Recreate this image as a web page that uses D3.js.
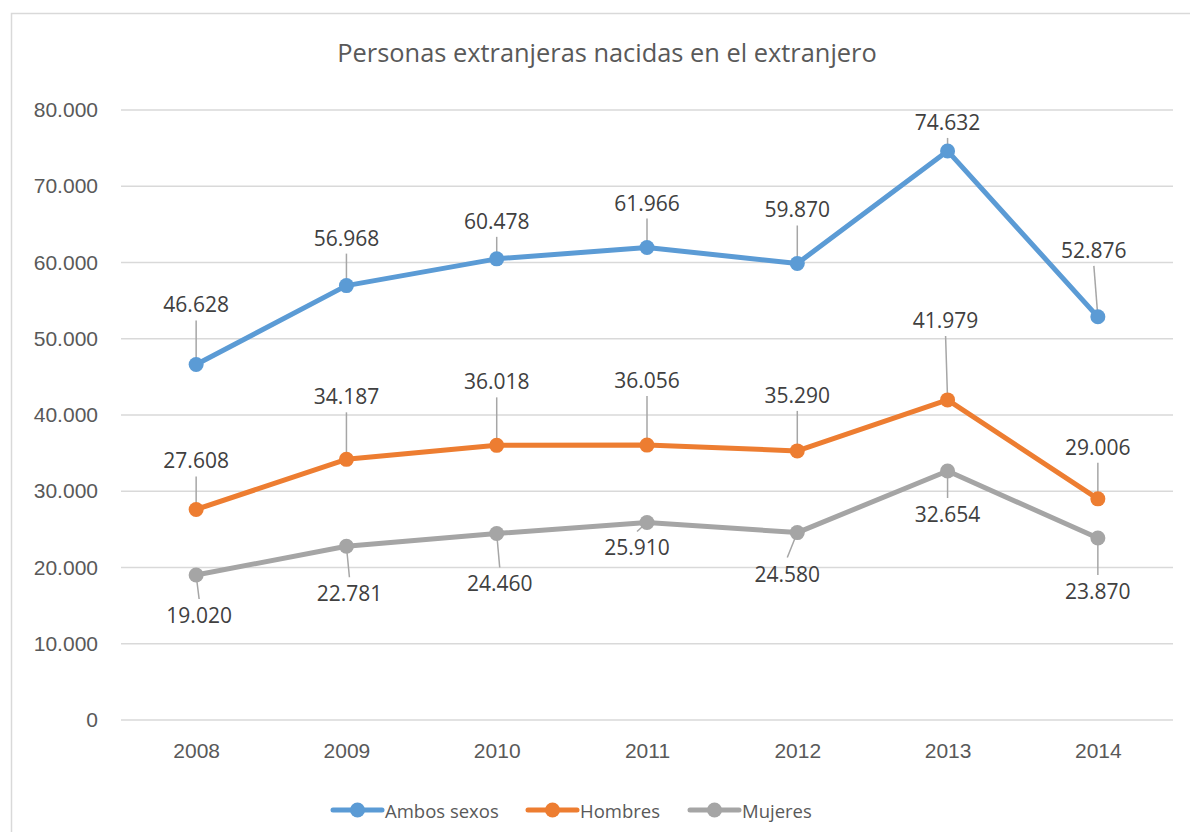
<!DOCTYPE html>
<html>
<head>
<meta charset="utf-8">
<script src="https://cdn.jsdelivr.net/npm/d3@7/dist/d3.min.js"></script>
<style>
  html, body { margin: 0; padding: 0; background: #ffffff; }
  svg { display: block; font-family: "Open Sans", "Noto Sans", sans-serif; }
</style>
</head>
<body>
<svg id="chart" width="1190" height="832"></svg>
<script>
// Chart data
const years = ["2008", "2009", "2010", "2011", "2012", "2013", "2014"];
const ambosSexos = [46628, 56968, 60478, 61966, 59870, 74632, 52876];
const hombres = [27608, 34187, 36018, 36056, 35290, 41979, 29006];
const mujeres = [19020, 22781, 24460, 25910, 24580, 32654, 23870];
const seriesNames = ["Ambos sexos", "Hombres", "Mujeres"];
const yTicks = [0, 10000, 20000, 30000, 40000, 50000, 60000, 70000, 80000];
const title = "Personas extranjeras nacidas en el extranjero";

// Data-label placement (pixel offset of each label centre from its point)
const labelOffsets = [
  [[0, -60], [0, -48], [0, -38], [0, -45], [0, -54], [0, -29], [-4, -67]],
  [[0, -49], [0, -63], [0, -64], [0, -65], [0, -56], [-2, -80], [0, -52]],
  [[3, 40], [3, 47], [3, 50], [-10, 25], [-10, 41], [0, 43], [0, 53]]
];

const colors = ["#5B9BD5", "#ED7D31", "#A5A5A5"];
const textColor = "#595959";
const gridColor = "#D9D9D9";

const es = d3.formatLocale({ decimal: ",", thousands: ".", grouping: [3], currency: ["", "€"] });
const fmt = es.format(",d");

const svg = d3.select("#chart");

// Chart frame
svg.append("rect")
  .attr("x", 11.5).attr("y", 13.5)
  .attr("width", 1200).attr("height", 840)
  .attr("fill", "#ffffff")
  .attr("stroke", gridColor).attr("stroke-width", 1.5);

const plot = { left: 121, right: 1173, top: 110, bottom: 720 };

const x = d3.scalePoint().domain(years).range([plot.left, plot.right]).padding(0.5);
const y = d3.scaleLinear().domain([0, 80000]).range([plot.bottom, plot.top]);

// Title
svg.append("text")
  .attr("x", 607).attr("y", 52)
  .attr("text-anchor", "middle").attr("dominant-baseline", "central")
  .attr("fill", textColor).attr("font-size", 25.4)
  .text(title);

// Horizontal gridlines
svg.append("g").selectAll("line").data(yTicks).join("line")
  .attr("x1", plot.left).attr("x2", plot.right)
  .attr("y1", d => y(d)).attr("y2", d => y(d))
  .attr("stroke", gridColor).attr("stroke-width", 1.5);

// Y axis
const yAxis = svg.append("g")
  .attr("transform", `translate(${plot.left},0)`)
  .call(d3.axisLeft(y).tickValues(yTicks).tickFormat(d => fmt(d)).tickSize(0).tickPadding(23));
yAxis.select(".domain").remove();
yAxis.selectAll("text").attr("fill", textColor).attr("font-size", 21).attr("font-family", null);

// X axis
const xAxis = svg.append("g")
  .attr("transform", `translate(0,${plot.bottom})`)
  .call(d3.axisBottom(x).tickSize(0).tickPadding(23));
xAxis.select(".domain").remove();
xAxis.selectAll("text").attr("fill", textColor).attr("font-size", 21).attr("font-family", null);

const allSeries = [ambosSexos, hombres, mujeres];
const line = d3.line().x((d, i) => x(years[i])).y(d => y(d));

allSeries.forEach((values, s) => {
  const g = svg.append("g");
  const pts = values.map((v, i) => ({
    v, i,
    px: x(years[i]), py: y(v),
    lx: x(years[i]) + labelOffsets[s][i][0],
    ly: y(v) + labelOffsets[s][i][1]
  }));

  // Leader lines from label box edge to point
  const half = 16;
  g.selectAll("line.leader").data(pts.filter(p => Math.abs(p.ly - p.py) > half + 8)).join("line")
    .attr("class", "leader")
    .attr("x1", p => p.lx)
    .attr("y1", p => p.ly + (p.py > p.ly ? half : -half))
    .attr("x2", p => p.px).attr("y2", p => p.py)
    .attr("stroke", "#A6A6A6").attr("stroke-width", 1.5);

  g.append("path")
    .datum(values)
    .attr("d", line)
    .attr("fill", "none")
    .attr("stroke", colors[s]).attr("stroke-width", 5)
    .attr("stroke-linejoin", "round").attr("stroke-linecap", "round");

  g.selectAll("circle").data(pts).join("circle")
    .attr("cx", p => p.px).attr("cy", p => p.py).attr("r", 7.5)
    .attr("fill", colors[s]);

  g.selectAll("text").data(pts).join("text")
    .attr("x", p => p.lx).attr("y", p => p.ly)
    .attr("text-anchor", "middle").attr("dominant-baseline", "central")
    .attr("fill", "#404040").attr("font-size", 21)
    .text(p => fmt(p.v));
});

// Legend
const legendItems = [
  { name: seriesNames[0], color: colors[0], x: 333 },
  { name: seriesNames[1], color: colors[1], x: 528 },
  { name: seriesNames[2], color: colors[2], x: 690 }
];
const legendY = 810;
const lg = svg.append("g").selectAll("g").data(legendItems).join("g")
  .attr("transform", d => `translate(${d.x},${legendY})`);
lg.append("line")
  .attr("x1", 0).attr("x2", 49).attr("y1", 0).attr("y2", 0)
  .attr("stroke", d => d.color).attr("stroke-width", 5).attr("stroke-linecap", "round");
lg.append("circle").attr("cx", 24.5).attr("cy", 0).attr("r", 7.5).attr("fill", d => d.color);
lg.append("text")
  .attr("x", 52).attr("y", 0).attr("dominant-baseline", "central")
  .attr("fill", textColor).attr("font-size", 18.5)
  .text(d => d.name);
</script>
</body>
</html>
